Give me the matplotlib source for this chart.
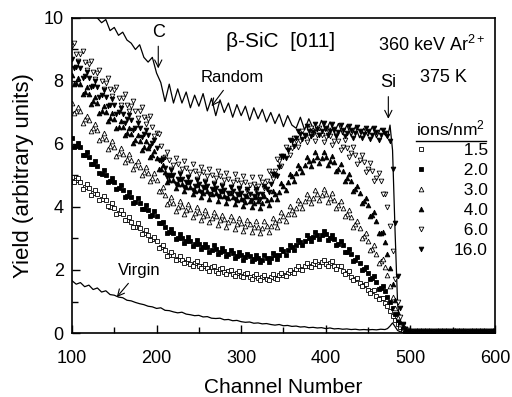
import numpy as np
import matplotlib
matplotlib.use("Agg")
import matplotlib.pyplot as plt
from matplotlib.lines import Line2D

plt.rcParams['font.family'] = ['Liberation Sans', 'DejaVu Sans']
plt.rcParams['mathtext.fontset'] = 'custom'
plt.rcParams['mathtext.rm'] = 'Liberation Sans'
plt.rcParams['mathtext.it'] = 'Liberation Sans:italic'

# channel grid: every 5 channels, finer across the Si edge
channels = np.concatenate([np.arange(100, 471, 5), np.arange(473, 501, 3), np.arange(505, 601, 5)])
# in-between channels (102.5 ... 467.5) for the denser second pass of each spectrum
channels_mid = np.arange(102.5, 470, 5)

random_yield = [
    10.9, 10.6, 10.7, 10.4, 10.3, 10.1, 10.0, 9.85, 9.95, 9.6, 9.7, 9.45, 9.55, 9.3, 9.2,
    9.0, 9.15, 8.75, 8.6, 8.75, 8.25, 7.95, 7.35, 7.9, 7.3, 7.75, 7.3, 7.65, 7.15, 7.55,
    7.2, 7.6, 7.05, 7.45, 6.9, 7.4, 7.0, 7.3, 6.85, 7.25, 6.9, 7.2, 6.75, 7.15, 6.8,
    7.1, 6.7, 7.0, 6.65, 6.95, 6.55, 6.9, 6.6, 6.5, 6.85, 6.45, 6.8, 6.5, 6.4, 6.75,
    6.4, 6.7, 6.35, 6.65, 6.3, 6.6, 6.25, 6.55, 6.2, 6.5, 6.25, 6.55, 6.2, 6.5, 6.3,
    6.2, 6.6, 5.8, 3.2, 0.9, 0.3, 0.12, 0.06, 0.04, 0.03,
    0.03, 0.02, 0.04, 0.02, 0.03, 0.02, 0.03, 0.04, 0.02, 0.03,
    0.02, 0.03, 0.02, 0.04, 0.03, 0.02, 0.03, 0.02, 0.03, 0.02,
]

virgin_yield = [
    1.66, 1.55, 1.6, 1.47, 1.52, 1.38, 1.43, 1.3, 1.34, 1.22, 1.2, 1.14, 1.12, 1.04, 1.02,
    0.97, 0.93, 0.9, 0.85, 0.83, 0.78, 0.8, 0.72, 0.71, 0.67, 0.64, 0.66, 0.6, 0.58, 0.55,
    0.56, 0.51, 0.52, 0.47, 0.46, 0.47, 0.42, 0.43, 0.39, 0.4, 0.36, 0.34, 0.35, 0.31, 0.32,
    0.29, 0.3, 0.27, 0.25, 0.27, 0.23, 0.24, 0.21, 0.22, 0.19, 0.2, 0.17, 0.18, 0.16, 0.17,
    0.14, 0.16, 0.13, 0.14, 0.12, 0.13, 0.11, 0.12, 0.1, 0.11, 0.1, 0.11, 0.1, 0.12, 0.11,
    0.14, 0.22, 0.32, 0.2, 0.08, 0.04, 0.03, 0.02, 0.02, 0.02,
    0.02, 0.01, 0.02, 0.01, 0.02, 0.02, 0.01, 0.02, 0.01, 0.02,
    0.02, 0.01, 0.02, 0.02, 0.01, 0.02, 0.01, 0.02, 0.02, 0.01,
]

dose_1_5 = [
    4.95, 4.85, 4.8, 4.62, 4.6, 4.45, 4.42, 4.25, 4.22, 4.0, 3.98, 3.8, 3.78, 3.58, 3.52,
    3.38, 3.33, 3.18, 3.12, 2.98, 2.92, 2.72, 2.62, 2.48, 2.47, 2.36, 2.32, 2.26, 2.2, 2.22,
    2.12, 2.14, 2.05, 2.1, 1.97, 2.04, 1.93, 1.97, 1.88, 1.92, 1.82, 1.87, 1.78, 1.82, 1.75,
    1.78, 1.72, 1.79, 1.76, 1.83, 1.84, 1.92, 1.93, 2.02, 2.04, 2.12, 2.13, 2.2, 2.18, 2.26,
    2.19, 2.23, 2.13, 2.12, 1.98, 1.92, 1.78, 1.72, 1.58, 1.52, 1.38, 1.32, 1.18, 1.1, 0.94,
    0.85, 0.7, 0.55, 0.4, 0.28, 0.18, 0.11, 0.07, 0.05, 0.05,
    0.05, 0.04, 0.06, 0.05, 0.04, 0.05, 0.06, 0.04, 0.05, 0.05,
    0.04, 0.06, 0.05, 0.04, 0.05, 0.05, 0.06, 0.04, 0.05, 0.05,
]
dose_1_5_mid = [
    4.78, 4.92, 4.58, 4.72, 4.38, 4.55, 4.22, 4.36, 4.02, 4.12,
    3.78, 3.92, 3.58, 3.68, 3.35, 3.48, 3.15, 3.27, 2.95, 3.05,
    2.7, 2.78, 2.45, 2.56, 2.33, 2.45, 2.22, 2.34, 2.13, 2.27,
    2.05, 2.19, 1.98, 2.12, 1.92, 2.06, 1.86, 2.01, 1.82, 1.96,
    1.77, 1.91, 1.72, 1.87, 1.69, 1.84, 1.68, 1.86, 1.72, 1.92,
    1.8, 2.01, 1.9, 2.12, 2.0, 2.22, 2.09, 2.3, 2.14, 2.32,
    2.12, 2.27, 2.04, 2.14, 1.88, 1.96, 1.68, 1.76, 1.48, 1.56,
    1.28, 1.35, 1.08, 1.12,
]

dose_2_0 = [
    6.2, 5.95, 5.9, 5.65, 5.58, 5.35, 5.3, 5.05, 5.02, 4.82, 4.78, 4.6, 4.55, 4.35, 4.32,
    4.15, 4.12, 3.95, 3.92, 3.76, 3.72, 3.48, 3.38, 3.22, 3.18, 3.02, 3.02, 2.93, 2.92, 2.84,
    2.82, 2.72, 2.73, 2.64, 2.68, 2.58, 2.6, 2.52, 2.55, 2.46, 2.48, 2.4, 2.43, 2.36, 2.38,
    2.33, 2.38, 2.37, 2.47, 2.48, 2.6, 2.62, 2.74, 2.78, 2.9, 2.93, 3.03, 3.04, 3.12, 3.1,
    3.13, 3.03, 2.98, 2.83, 2.78, 2.58, 2.5, 2.33, 2.22, 2.03, 1.92, 1.76, 1.62, 1.43, 1.32,
    1.15, 0.98, 0.8, 0.6, 0.42, 0.28, 0.16, 0.1, 0.07, 0.06,
    0.06, 0.05, 0.06, 0.05, 0.06, 0.05, 0.05, 0.06, 0.05, 0.06,
    0.05, 0.05, 0.06, 0.05, 0.05, 0.06, 0.05, 0.06, 0.05, 0.05,
]
dose_2_0_mid = [
    5.92, 6.02, 5.66, 5.74, 5.36, 5.45, 5.07, 5.16, 4.8, 4.92,
    4.58, 4.7, 4.33, 4.47, 4.13, 4.27, 3.93, 4.07, 3.73, 3.86,
    3.48, 3.52, 3.18, 3.31, 2.98, 3.13, 2.85, 3.04, 2.75, 2.95,
    2.66, 2.84, 2.57, 2.78, 2.5, 2.71, 2.44, 2.65, 2.37, 2.58,
    2.31, 2.52, 2.27, 2.49, 2.24, 2.47, 2.26, 2.53, 2.36, 2.66,
    2.49, 2.8, 2.64, 2.96, 2.8, 3.1, 2.91, 3.2, 2.99, 3.24,
    2.96, 3.12, 2.78, 2.92, 2.56, 2.66, 2.3, 2.4, 2.0, 2.1,
    1.72, 1.81, 1.41, 1.5,
]

dose_3_0 = [
    7.3, 7.05, 7.05, 6.8, 6.75, 6.5, 6.45, 6.2, 6.15, 5.95, 5.92, 5.72, 5.68, 5.52, 5.48,
    5.32, 5.28, 5.12, 5.08, 4.92, 4.85, 4.5, 4.38, 4.15, 4.14, 4.0, 4.02, 3.92, 3.93, 3.82,
    3.84, 3.72, 3.76, 3.66, 3.72, 3.6, 3.62, 3.52, 3.58, 3.46, 3.5, 3.4, 3.45, 3.36, 3.38,
    3.32, 3.4, 3.4, 3.52, 3.58, 3.72, 3.78, 3.92, 3.98, 4.12, 4.18, 4.3, 4.3, 4.4, 4.38,
    4.4, 4.28, 4.22, 4.05, 3.97, 3.78, 3.67, 3.45, 3.32, 3.08, 2.92, 2.68, 2.52, 2.28, 2.08,
    1.85, 1.5, 1.15, 0.8, 0.5, 0.3, 0.16, 0.1, 0.07, 0.06,
    0.06, 0.05, 0.07, 0.06, 0.05, 0.06, 0.07, 0.05, 0.06, 0.06,
    0.05, 0.07, 0.06, 0.05, 0.06, 0.06, 0.05, 0.07, 0.06, 0.05,
]
dose_3_0_mid = [
    6.98, 7.18, 6.68, 6.88, 6.42, 6.63, 6.12, 6.34, 5.85, 6.1,
    5.62, 5.88, 5.42, 5.68, 5.22, 5.47, 5.02, 5.28, 4.82, 5.07,
    4.5, 4.62, 4.1, 4.32, 3.88, 4.2, 3.78, 4.1, 3.68, 4.0,
    3.6, 3.9, 3.52, 3.84, 3.44, 3.76, 3.38, 3.7, 3.31, 3.64,
    3.25, 3.59, 3.21, 3.54, 3.17, 3.54, 3.22, 3.64, 3.37, 3.83,
    3.57, 4.03, 3.77, 4.23, 3.97, 4.42, 4.12, 4.53, 4.21, 4.57,
    4.16, 4.43, 3.96, 4.2, 3.7, 3.9, 3.38, 3.57, 3.02, 3.18,
    2.62, 2.78, 2.22, 2.35,
]

dose_4_0 = [
    8.2, 7.95, 7.9, 7.65, 7.6, 7.35, 7.3, 7.05, 7.0, 6.82, 6.78, 6.55, 6.55, 6.35, 6.32,
    6.12, 6.08, 5.92, 5.88, 5.65, 5.55, 5.2, 5.1, 4.85, 4.85, 4.72, 4.73, 4.62, 4.63, 4.52,
    4.55, 4.46, 4.5, 4.4, 4.44, 4.34, 4.36, 4.27, 4.32, 4.22, 4.25, 4.17, 4.2, 4.13, 4.18,
    4.14, 4.22, 4.25, 4.4, 4.47, 4.68, 4.78, 4.98, 5.08, 5.25, 5.33, 5.47, 5.5, 5.6, 5.55,
    5.58, 5.45, 5.42, 5.22, 5.14, 4.92, 4.82, 4.58, 4.45, 4.18, 4.05, 3.75, 3.55, 3.18, 2.88,
    2.5, 2.05, 1.55, 1.05, 0.65, 0.35, 0.18, 0.1, 0.07, 0.06,
    0.06, 0.07, 0.05, 0.06, 0.06, 0.07, 0.05, 0.06, 0.07, 0.06,
    0.05, 0.06, 0.07, 0.06, 0.05, 0.06, 0.06, 0.07, 0.05, 0.06,
]
dose_4_0_mid = [
    7.9, 8.1, 7.58, 7.8, 7.28, 7.5, 6.98, 7.2, 6.72, 6.98,
    6.5, 6.72, 6.27, 6.52, 6.04, 6.28, 5.82, 6.08, 5.6, 5.78,
    5.2, 5.32, 4.8, 5.02, 4.6, 4.9, 4.5, 4.8, 4.4, 4.7,
    4.33, 4.64, 4.26, 4.58, 4.2, 4.52, 4.14, 4.46, 4.08, 4.4,
    4.04, 4.36, 4.0, 4.33, 3.98, 4.35, 4.06, 4.5, 4.26, 4.76,
    4.54, 5.06, 4.84, 5.34, 5.1, 5.58, 5.3, 5.73, 5.4, 5.75,
    5.34, 5.61, 5.14, 5.36, 4.84, 5.04, 4.51, 4.68, 4.12, 4.28,
    3.72, 3.83, 3.17, 3.2,
]

dose_6_0 = [
    9.1, 8.85, 8.85, 8.6, 8.55, 8.3, 8.25, 8.0, 7.95, 7.75, 7.72, 7.45, 7.45, 7.25, 7.22,
    7.05, 7.05, 6.85, 6.8, 6.55, 6.35, 5.95, 5.6, 5.5, 5.32, 5.35, 5.22, 5.25, 5.12, 5.15,
    5.05, 5.1, 4.98, 5.02, 4.92, 4.98, 4.85, 4.9, 4.8, 4.85, 4.76, 4.8, 4.7, 4.74, 4.68,
    4.78, 4.82, 5.05, 5.15, 5.45, 5.58, 5.8, 5.88, 6.08, 6.1, 6.25, 6.22, 6.32, 6.28, 6.3,
    6.22, 6.24, 6.08, 6.1, 5.92, 5.88, 5.72, 5.65, 5.48, 5.42, 5.22, 5.15, 4.92, 4.82, 4.42,
    4.0, 3.4, 2.6, 1.7, 1.0, 0.5, 0.25, 0.12, 0.08, 0.06,
    0.07, 0.06, 0.05, 0.07, 0.06, 0.06, 0.05, 0.07, 0.06, 0.05,
    0.06, 0.07, 0.06, 0.05, 0.06, 0.07, 0.06, 0.05, 0.06, 0.06,
]
dose_6_0_mid = [
    9.2, 8.65, 8.95, 8.36, 8.64, 8.06, 8.35, 7.76, 8.08, 7.52,
    7.8, 7.24, 7.58, 7.04, 7.38, 6.84, 7.17, 6.62, 6.9, 6.25,
    6.32, 5.55, 5.75, 5.2, 5.55, 5.07, 5.45, 4.96, 5.35, 4.88,
    5.28, 4.82, 5.2, 4.76, 5.15, 4.69, 5.08, 4.63, 5.04, 4.58,
    4.98, 4.52, 4.94, 4.5, 4.95, 4.6, 5.14, 4.9, 5.52, 5.3,
    5.92, 5.65, 6.2, 5.9, 6.4, 6.05, 6.5, 6.1, 6.5, 6.07,
    6.44, 5.96, 6.3, 5.8, 6.12, 5.6, 5.9, 5.36, 5.66, 5.11,
    5.39, 4.82, 5.07, 4.4,
]

dose_16_0 = [
    8.7, 8.45, 8.4, 8.15, 8.1, 7.85, 7.8, 7.55, 7.5, 7.25, 7.25, 7.0, 6.95, 6.78, 6.75,
    6.52, 6.5, 6.32, 6.28, 6.02, 5.88, 5.45, 5.25, 5.02, 5.0, 4.88, 4.9, 4.78, 4.8, 4.68,
    4.72, 4.62, 4.66, 4.56, 4.6, 4.5, 4.54, 4.45, 4.5, 4.42, 4.46, 4.36, 4.42, 4.36, 4.42,
    4.42, 4.58, 4.72, 5.02, 5.28, 5.62, 5.82, 6.08, 6.18, 6.32, 6.3, 6.42, 6.38, 6.48, 6.42,
    6.5, 6.42, 6.48, 6.38, 6.46, 6.36, 6.45, 6.34, 6.42, 6.32, 6.4, 6.3, 6.38, 6.28, 6.35,
    6.25, 6.1, 5.2, 3.5, 1.8, 0.8, 0.3, 0.12, 0.07, 0.06,
    0.06, 0.07, 0.06, 0.05, 0.07, 0.06, 0.06, 0.07, 0.05, 0.06,
    0.07, 0.06, 0.05, 0.06, 0.07, 0.06, 0.06, 0.05, 0.07, 0.06,
]
dose_16_0_mid = [
    8.4, 8.6, 8.1, 8.3, 7.8, 8.0, 7.5, 7.72, 7.2, 7.42,
    6.95, 7.15, 6.68, 6.92, 6.45, 6.68, 6.22, 6.46, 5.94, 6.14,
    5.5, 5.52, 4.95, 5.18, 4.74, 5.06, 4.64, 4.96, 4.54, 4.86,
    4.48, 4.8, 4.41, 4.74, 4.35, 4.68, 4.3, 4.64, 4.26, 4.6,
    4.23, 4.56, 4.21, 4.57, 4.25, 4.68, 4.48, 5.06, 4.98, 5.62,
    5.55, 6.12, 5.94, 6.42, 6.15, 6.58, 6.25, 6.64, 6.3, 6.66,
    6.28, 6.62, 6.26, 6.6, 6.24, 6.58, 6.2, 6.55, 6.18, 6.52,
    6.15, 6.5, 6.12, 6.45,
]

dose_labels = ['  1.5', '  2.0', '  3.0', '  4.0', '  6.0', '16.0']
dose_series = [dose_1_5, dose_2_0, dose_3_0, dose_4_0, dose_6_0, dose_16_0]
dose_series_mid = [dose_1_5_mid, dose_2_0_mid, dose_3_0_mid, dose_4_0_mid, dose_6_0_mid, dose_16_0_mid]
dose_markers = ['s', 's', '^', '^', 'v', 'v']
dose_filled = [False, True, False, True, False, True]

fig = plt.figure(figsize=(5.12, 3.97), dpi=100)
ax = fig.add_axes([0.1406, 0.1612, 0.826, 0.7935])

ax.plot(channels, random_yield, color='black', lw=0.9)
ax.plot(channels, virgin_yield, color='black', lw=0.9)

handles = []
for vals, vals_mid, mk, filled in zip(dose_series, dose_series_mid, dose_markers, dose_filled):
    style = dict(linestyle='none', marker=mk, markersize=3.4, markeredgewidth=0.6,
                 markeredgecolor='black', markerfacecolor='black' if filled else 'white')
    h, = ax.plot(channels, vals, **style)
    ax.plot(channels_mid, vals_mid, **style)
    handles.append(h)

ax.set_xlim(100, 600)
ax.set_ylim(0, 10)
ax.set_xticks([100, 200, 300, 400, 500, 600])
ax.set_xticks([150, 250, 350, 450, 550], minor=True)
ax.set_yticks([0, 2, 4, 6, 8, 10])
ax.set_yticks([1, 3, 5, 7, 9], minor=True)
ax.tick_params(which='both', direction='in', top=False, right=False, width=1, labelsize=13)
ax.tick_params(which='major', length=6)
ax.tick_params(which='minor', length=4)
ax.tick_params(axis='x', which='major', pad=12)
ax.tick_params(axis='y', which='major', pad=6)
for sp in ax.spines.values():
    sp.set_linewidth(1.2)

ax.set_xlabel('Channel Number', fontsize=15, labelpad=8)
ax.set_ylabel('Yield (arbitrary units)', fontsize=16, labelpad=7)

arrow = dict(arrowstyle='->', lw=0.8, color='black', shrinkA=2, shrinkB=0)
ax.annotate('C', xy=(202, 8.4), xytext=(202, 9.55), ha='center', va='center',
            fontsize=13, arrowprops=arrow)
ax.annotate('Random', xy=(265, 7.2), xytext=(290, 8.1), ha='center', va='center',
            fontsize=12, arrowprops=arrow)
ax.annotate('Si', xy=(474, 6.8), xytext=(474, 7.95), ha='center', va='center',
            fontsize=13, arrowprops=arrow)
ax.annotate('Virgin', xy=(153, 1.14), xytext=(179, 1.97), ha='center', va='center',
            fontsize=12, arrowprops=arrow)

ax.text(347, 9.24, '\u03b2-SiC  [011]', ha='center', va='center', fontsize=15)
ax.text(462, 9.14, '360 keV Ar$^{\\mathrm{2+}}$', ha='left', va='center', fontsize=13)
ax.text(511, 8.1, '375 K', ha='left', va='center', fontsize=13)

leg = ax.legend(handles, dose_labels, title='ions/nm$^{\\mathrm{2}}$', frameon=False,
                loc='upper left', bbox_to_anchor=(0.78, 0.72), fontsize=12.5,
                title_fontsize=12.5, handlelength=0.8, handletextpad=1.5,
                labelspacing=0.28, borderpad=0.2, markerscale=1.0)

fig.canvas.draw()
bb = leg.get_title().get_window_extent().transformed(fig.transFigure.inverted())
fig.add_artist(Line2D([bb.x0, bb.x1], [bb.y0 - 0.008, bb.y0 - 0.008], color='black', lw=1.0,
                      transform=fig.transFigure))

fig.savefig('out.png', dpi=100)
